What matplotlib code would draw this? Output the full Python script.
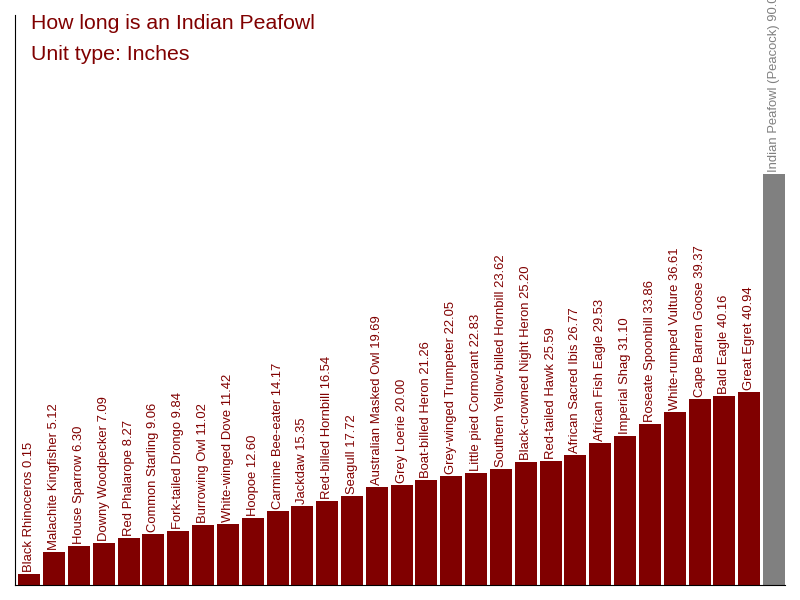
import matplotlib
matplotlib.use("Agg")
import matplotlib.pyplot as plt

# bird lengths in inches
birds = [
    "Black Rhinoceros", "Malachite Kingfisher", "House Sparrow", "Downy Woodpecker",
    "Red Phalarope", "Common Starling", "Fork-tailed Drongo", "Burrowing Owl",
    "White-winged Dove", "Hoopoe", "Carmine Bee-eater", "Jackdaw",
    "Red-billed Hornbill", "Seagull", "Australian Masked Owl", "Grey Loerie",
    "Boat-billed Heron", "Grey-winged Trumpeter", "Little pied Cormorant",
    "Southern Yellow-billed Hornbill", "Black-crowned Night Heron", "Red-tailed Hawk",
    "African Sacred Ibis", "African Fish Eagle", "Imperial Shag", "Roseate Spoonbill",
    "White-rumped Vulture", "Cape Barren Goose", "Bald Eagle", "Great Egret",
    "Indian Peafowl (Peacock)",
]
lengths = [
    0.15, 5.12, 6.30, 7.09, 8.27, 9.06, 9.84, 11.02, 11.42, 12.60, 14.17, 15.35,
    16.54, 17.72, 19.69, 20.00, 21.26, 22.05, 22.83, 23.62, 25.20, 25.59, 26.77,
    29.53, 31.10, 33.86, 36.61, 39.37, 40.16, 40.94, 90.00,
]
highlight = "Indian Peafowl (Peacock)"

plt.rcParams['font.family'] = ['Liberation Sans', 'DejaVu Sans']

red = "#800000"
grey = "#808080"

fig = plt.figure(figsize=(8, 6), dpi=100)
ax = fig.add_axes([15 / 800, 15 / 600, 770 / 800, 570 / 600])

colors = [grey if b == highlight else red for b in birds]
x = list(range(len(birds)))
# bars start a little below the zero line, as in the original
base = -2.36
ax.bar(x, [v - base for v in lengths], width=0.886, color=colors, bottom=base)

for i, (b, v) in enumerate(zip(birds, lengths)):
    c = grey if b == highlight else red
    ax.annotate(f"{b} {v:.2f}", xy=(i, v), xytext=(0, 2), textcoords="offset pixels",
                rotation=90, ha="center", va="bottom", fontsize=9.4, color=c,
                annotation_clip=False)

ax.set_xlim(-0.576, 30.443)
ax.set_ylim(base, 125.7)

ax.spines['top'].set_visible(False)
ax.spines['right'].set_visible(False)
ax.set_xticks([])
ax.set_yticks([])

fig.text(31 / 800, 1 - 29 / 600, "How long is an Indian Peafowl", fontsize=15.3,
         color=red, va="baseline", ha="left")
fig.text(31 / 800, 1 - 60 / 600, "Unit type: Inches", fontsize=15.3,
         color=red, va="baseline", ha="left")

fig.savefig("out.png", dpi=100)
